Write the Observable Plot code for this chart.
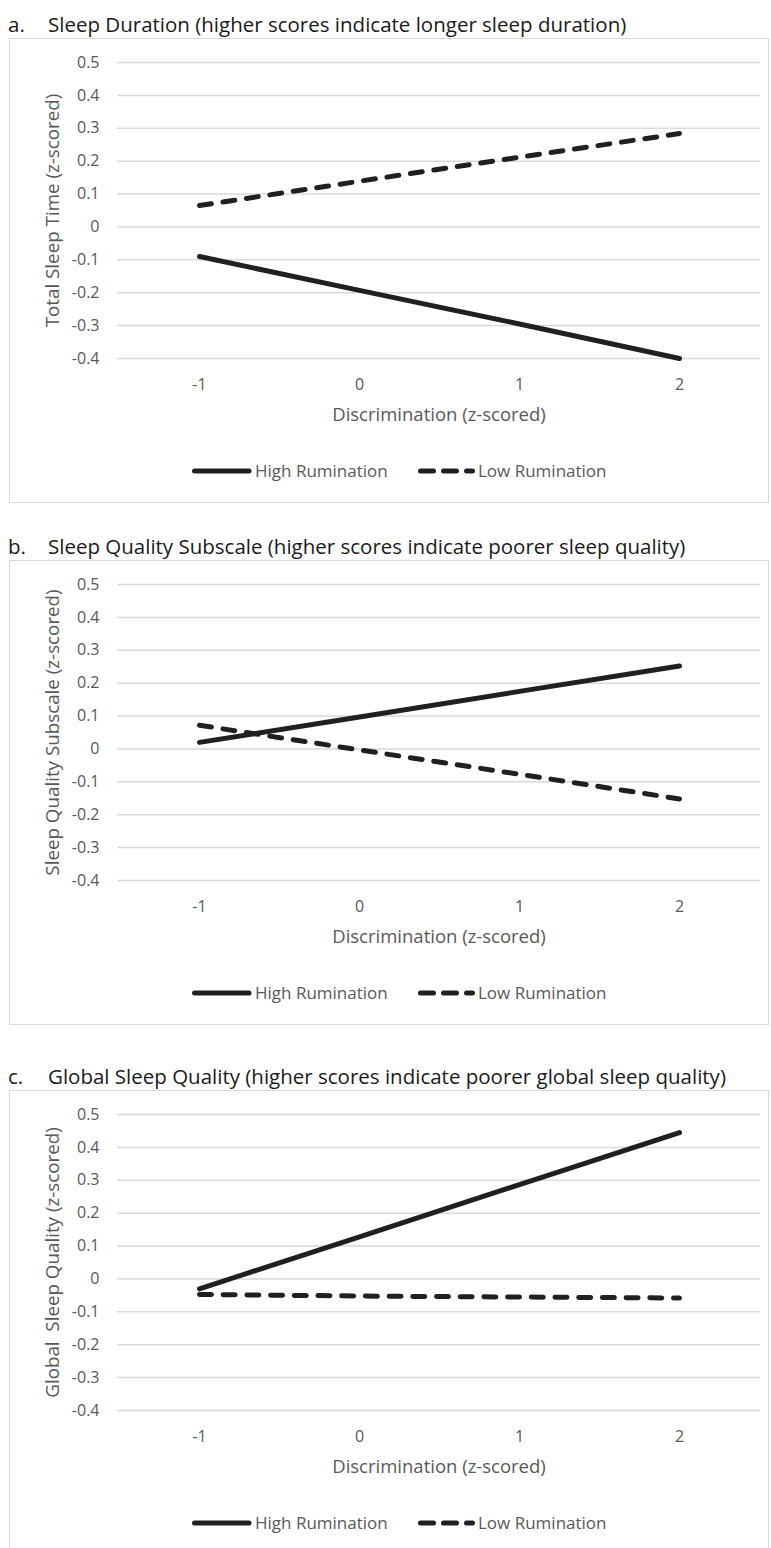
<!DOCTYPE html>
<html>
<head>
<meta charset="utf-8">
<script src="https://cdn.jsdelivr.net/npm/d3@7"></script>
<script src="https://cdn.jsdelivr.net/npm/@observablehq/plot@0.6"></script>
<style>
  html, body { margin: 0; padding: 0; background: #fff; }
  body { width: 771px; font-family: "Open Sans", Lato, sans-serif; }
  .title { height: 28px; line-height: 28px; font-size: 20.5px; color: #1a1a1a; white-space: pre; padding-left: 8px; }
  .title .lab { display: inline-block; width: 40px; }
  .box { margin-left: 9px; width: 758px; border: 1px solid #d9d9d9; position: relative; }
  .legend { height: 63px; position: relative; font-size: 17px; color: #595959; }
  .legend .item { position: absolute; top: 0; height: 63px; display: flex; align-items: center; }
  .legend .item span { margin-left: 3px; }
  .legend svg { display: block; }
</style>
</head>
<body>
<div id="root"></div>
<script>
// ---- data ----
const xCats = [-1, 0, 1, 2];
const yTicks = [0.5, 0.4, 0.3, 0.2, 0.1, 0, -0.1, -0.2, -0.3, -0.4];
const seriesNames = ["High Rumination", "Low Rumination"];

const durationHigh = [-0.09, -0.193, -0.295, -0.40];
const durationLow = [0.065, 0.139, 0.212, 0.284];

const subscaleHigh = [0.02, 0.097, 0.175, 0.252];
const subscaleLow = [0.072, -0.003, -0.077, -0.152];

const globalHigh = [-0.03, 0.128, 0.287, 0.445];
const globalLow = [-0.047, -0.052, -0.055, -0.058];

const panels = [
  {lab: "a.", title: "Sleep Duration (higher scores indicate longer sleep duration)", ylabel: "Total Sleep Time (z-scored)", high: durationHigh, low: durationLow, top: 10},
  {lab: "b.", title: "Sleep Quality Subscale (higher scores indicate poorer sleep quality)", ylabel: "Sleep Quality Subscale (z-scored)", high: subscaleHigh, low: subscaleLow, top: 29},
  {lab: "c.", title: "Global Sleep Quality (higher scores indicate poorer global sleep quality)", ylabel: "Global\u00A0 Sleep Quality (z-scored)", high: globalHigh, low: globalLow, top: 37}
];

const xLabel = "Discrimination (z-scored)";
const ink = "#231f20";
const grey = "#595959";
const dash = "12,11.7";

const root = document.getElementById("root");

for (const p of panels) {
  const t = document.createElement("div");
  t.className = "title";
  t.style.marginTop = p.top + "px";
  t.innerHTML = `<span class="lab">${p.lab}</span>${p.title}`;
  root.appendChild(t);

  const box = document.createElement("div");
  box.className = "box";
  root.appendChild(box);

  const rows = [];
  xCats.forEach((x, i) => {
    rows.push({x, y: p.high[i], s: seriesNames[0]});
    rows.push({x, y: p.low[i], s: seriesNames[1]});
  });

  const chart = Plot.plot({
    width: 758,
    height: 400,
    marginLeft: 107,
    marginRight: 8,
    marginTop: 23,
    marginBottom: 81,
    style: {fontFamily: '"Open Sans", Lato, sans-serif', fontSize: "16px", color: grey, background: "#fff"},
    x: {type: "point", domain: xCats, padding: 0.5},
    y: {domain: [-0.4, 0.5], nice: false},
    marks: [
      Plot.gridY(yTicks, {stroke: "#d9d9d9", strokeOpacity: 1, strokeWidth: 1.5}),
      Plot.axisY(yTicks, {tickSize: 0, tickPadding: 18, label: null, fill: grey, fontSize: 16, tickFormat: d => d === 0 ? "0" : d.toFixed(1)}),
      Plot.axisX(xCats, {tickSize: 0, tickPadding: 20, label: null, fill: grey, fontSize: 16, tickFormat: d => String(d)}),
      Plot.text([p.ylabel], {text: d => d, frameAnchor: "left", dx: -65, rotate: -90, textAnchor: "middle", lineAnchor: "middle", fill: grey, fontSize: 18.8}),
      Plot.text([xLabel], {text: d => d, frameAnchor: "bottom", dy: 57, textAnchor: "middle", lineAnchor: "middle", fill: grey, fontSize: 18.5}),
      Plot.line(rows.filter(d => d.s === seriesNames[0]), {x: "x", y: "y", stroke: ink, strokeWidth: 5, strokeLinecap: "round"}),
      Plot.line(rows.filter(d => d.s === seriesNames[1]), {x: "x", y: "y", stroke: ink, strokeWidth: 5, strokeLinecap: "round", strokeDasharray: dash})
    ]
  });
  chart.style.display = "block";
  box.appendChild(chart);

  const leg = document.createElement("div");
  leg.className = "legend";
  leg.innerHTML = `
    <div class="item" style="left:182px">
      <svg width="60" height="10"><line x1="2.5" y1="5" x2="57" y2="5" stroke="${ink}" stroke-width="5" stroke-linecap="round"/></svg>
      <span>${seriesNames[0]}</span>
    </div>
    <div class="item" style="left:407px">
      <svg width="58" height="10"><line x1="3.5" y1="5" x2="55.5" y2="5" stroke="${ink}" stroke-width="5" stroke-linecap="round" stroke-dasharray="13,10"/></svg>
      <span>${seriesNames[1]}</span>
    </div>`;
  box.appendChild(leg);
}
</script>
</body>
</html>
